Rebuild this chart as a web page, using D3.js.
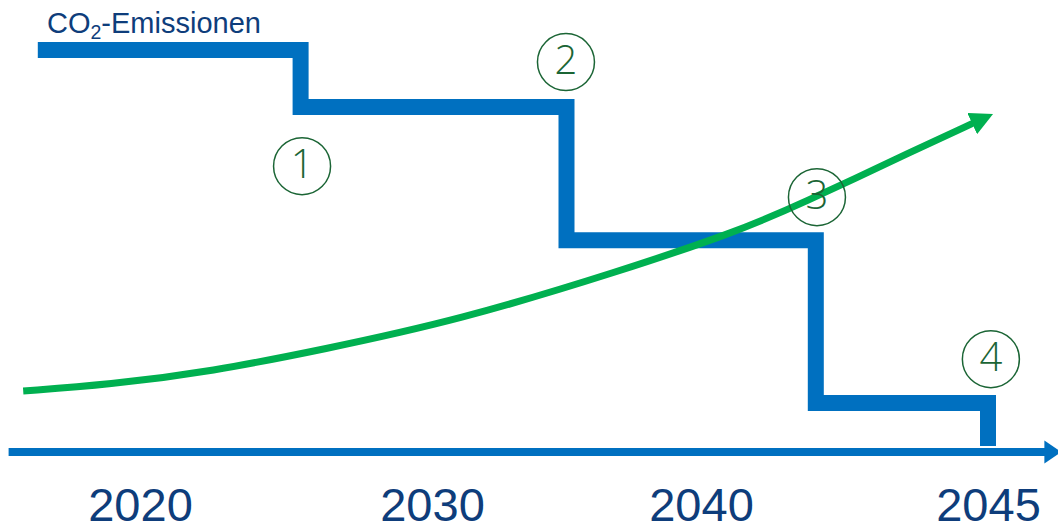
<!DOCTYPE html>
<html lang="de">
<head>
    <meta charset="UTF-8">
    <meta name="viewport" content="width=device-width, initial-scale=1.0">
    <script src="https://d3js.org/d3.v7.min.js"></script>
    <title>CO2-Emissionen</title>
    <style>
        html, body {
            margin: 0;
            padding: 0;
            background: #ffffff;
        }
        svg {
            display: block;
        }
    </style>
</head>
<body>
    <div id="chart"></div>
    <script>
        // data
        var yearTicks = [2020, 2030, 2040, 2045];
        var axisYears = [2015.5, 2046];

        var stepYears = [2016.5, 2025.5, 2035, 2042, 2045];
        var stepValues = [100, 85.8, 52.7, 12.2, 1.5];

        var curveYears = [2016.0, 2018.9, 2022.5, 2026.2, 2031.0, 2037.0, 2040.6, 2041.7, 2043.8, 2044.74];
        var curveValues = [15.2, 16.7, 20.1, 25.4, 32.8, 45.0, 54.7, 61.4, 75.6, 81.8];

        var markerLabels = ['1', '2', '3', '4'];
        var markerYears = [2025.55, 2034.98, 2042.02, 2045.05];
        var markerValues = [71.1, 97.0, 63.4, 23.1];

        var width = 1058;
        var height = 525;

        var blue = '#0070c0';
        var green = '#00b050';
        var navy = '#0e3d7b';
        var darkGreen = '#1b6535';

        var svg = d3.select('#chart')
                    .append('svg')
                        .attr('width', width)
                        .attr('height', height);

        // timeline is not evenly spaced in the picture
        var x = d3.scaleLinear()
                    .domain(yearTicks)
                    .range([140, 432, 701, 988]);

        var y = d3.scaleLinear()
                    .domain([0, 100])
                    .range([452, 50]);

        var defs = svg.append('defs');

        defs.append('marker')
                .attr('id', 'greenHead')
                .attr('markerUnits', 'userSpaceOnUse')
                .attr('viewBox', '0 -12 24 24')
                .attr('refX', 1)
                .attr('refY', 0)
                .attr('markerWidth', 24)
                .attr('markerHeight', 24)
                .attr('orient', 'auto')
            .append('path')
                .attr('d', 'M0,-11.7L23,0L0,11.7Z')
                .attr('fill', green);

        defs.append('marker')
                .attr('id', 'blueHead')
                .attr('markerUnits', 'userSpaceOnUse')
                .attr('viewBox', '0 -12 18 24')
                .attr('refX', 1)
                .attr('refY', 0)
                .attr('markerWidth', 18)
                .attr('markerHeight', 24)
                .attr('orient', 'auto')
            .append('path')
                .attr('d', 'M0,-11.5L17,0L0,11.5Z')
                .attr('fill', blue);

        // x axis line with arrow
        svg.append('line')
                .attr('x1', x(axisYears[0]))
                .attr('x2', x(axisYears[1]))
                .attr('y1', y(0))
                .attr('y2', y(0))
                .attr('stroke', blue)
                .attr('stroke-width', 8)
                .attr('marker-end', 'url(#blueHead)');

        var axis = svg.append('g')
                    .attr('transform', 'translate(0,' + y(0) + ')')
                    .call(d3.axisBottom(x)
                        .tickValues(yearTicks)
                        .tickFormat(d3.format('d'))
                        .tickSize(0)
                        .tickPadding(36));

        axis.select('.domain').remove();
        axis.selectAll('text')
                .attr('fill', navy)
                .style('font-family', '"Liberation Sans", Arial, sans-serif')
                .style('font-size', '47px');

        // CO2 steps
        var stepData = stepYears.map(function(d, i) {
            return { year: d, value: stepValues[i] };
        });

        var stepLine = d3.line()
                    .x(function(d) { return x(d.year); })
                    .y(function(d) { return y(d.value); })
                    .curve(d3.curveStepAfter);

        svg.append('path')
                .datum(stepData)
                .attr('d', stepLine)
                .attr('fill', 'none')
                .attr('stroke', blue)
                .attr('stroke-width', 16)
                .attr('stroke-linejoin', 'miter')
                .attr('stroke-linecap', 'butt');

        // green rising curve
        var curveData = curveYears.map(function(d, i) {
            return { year: d, value: curveValues[i] };
        });

        var greenLine = d3.line()
                    .x(function(d) { return x(d.year); })
                    .y(function(d) { return y(d.value); })
                    .curve(d3.curveBasis);

        svg.append('path')
                .datum(curveData)
                .attr('d', greenLine)
                .attr('fill', 'none')
                .attr('stroke', green)
                .attr('stroke-width', 7)
                .attr('marker-end', 'url(#greenHead)');

        // numbered circles
        var markers = svg.selectAll('.marker')
                    .data(markerLabels)
                    .enter()
                    .append('g')
                        .attr('class', 'marker')
                        .attr('transform', function(d, i) {
                            return 'translate(' + x(markerYears[i]) + ',' + y(markerValues[i]) + ')';
                        });

        markers.append('circle')
                .attr('r', 28.5)
                .attr('fill', 'none')
                .attr('stroke', darkGreen)
                .attr('stroke-width', 1.5);

        markers.append('text')
                .attr('text-anchor', 'middle')
                .attr('dy', '0.3em')
                .attr('fill', darkGreen)
                .style('font-family', '"Open Sans", "Noto Sans", sans-serif')
                .style('font-weight', 300)
                .style('font-size', '40px')
                .text(function(d) { return d; });

        // title
        var title = svg.append('text')
                    .attr('x', 47)
                    .attr('y', 33)
                    .attr('fill', navy)
                    .style('font-family', '"Liberation Sans", Arial, sans-serif')
                    .style('font-size', '29px');

        title.append('tspan').text('CO');
        title.append('tspan')
                .attr('dy', 6)
                .style('font-size', '19.5px')
                .text('2');
        title.append('tspan')
                .attr('dy', -6)
                .text('-Emissionen');
    </script>
</body>
</html>
